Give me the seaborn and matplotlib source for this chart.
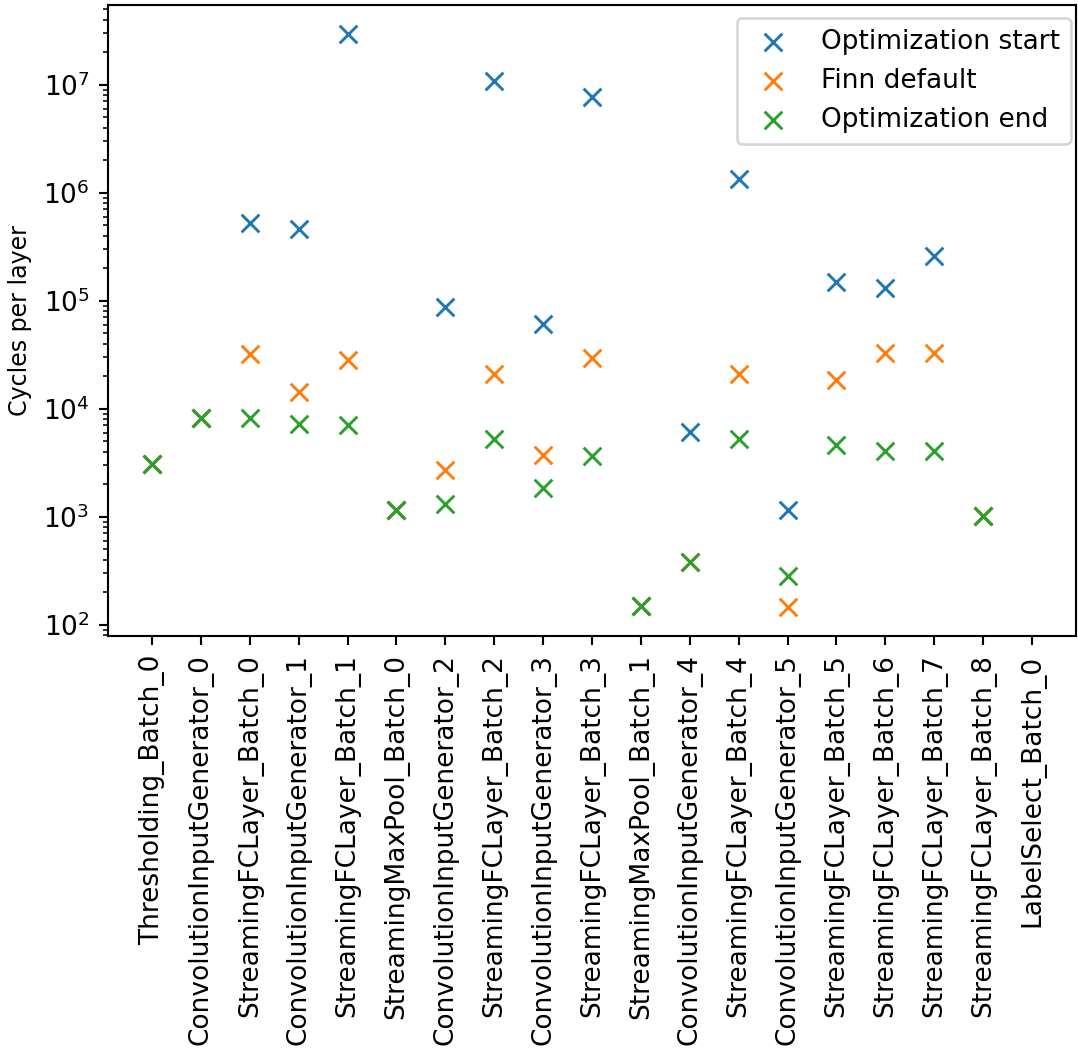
import numpy as np
import pandas as pd
import matplotlib
matplotlib.use("Agg")
import matplotlib.pyplot as plt
import seaborn as sns

layers = [
    "Thresholding_Batch_0",
    "ConvolutionInputGenerator_0",
    "StreamingFCLayer_Batch_0",
    "ConvolutionInputGenerator_1",
    "StreamingFCLayer_Batch_1",
    "StreamingMaxPool_Batch_0",
    "ConvolutionInputGenerator_2",
    "StreamingFCLayer_Batch_2",
    "ConvolutionInputGenerator_3",
    "StreamingFCLayer_Batch_3",
    "StreamingMaxPool_Batch_1",
    "ConvolutionInputGenerator_4",
    "StreamingFCLayer_Batch_4",
    "ConvolutionInputGenerator_5",
    "StreamingFCLayer_Batch_5",
    "StreamingFCLayer_Batch_6",
    "StreamingFCLayer_Batch_7",
    "StreamingFCLayer_Batch_8",
    "LabelSelect_Batch_0",
]

# cycles per layer (NaN: no estimate for that layer)
opt_start = [3100, 8200, 527000, 464000, 29600000, 1160, 88000, 10900000, 61200,
             7740000, 150, 6120, 1350000, 1160, 150000, 132000, 261000, 1020, np.nan]
finn_default = [3100, 8200, 32300, 14400, 28400, 1160, 2720, 21100, 3750,
                29600, 150, 383, 21100, 145, 18600, 33000, 33000, 1020, np.nan]
opt_end = [3100, 8200, 8200, 7260, 7100, 1160, 1320, 5280, 1860,
           3670, 150, 383, 5280, 284, 4640, 4090, 4090, 1020, np.nan]

series = [
    ("Optimization start", opt_start),
    ("Finn default", finn_default),
    ("Optimization end", opt_end),
]

sns.set_theme(style="ticks", rc={
    "text.color": "black",
    "axes.labelcolor": "black",
    "xtick.color": "black",
    "ytick.color": "black",
    "axes.edgecolor": "black",
})
plt.rcParams["font.family"] = ["DejaVu Sans"]
plt.rcParams["font.size"] = 10

DPI = 190
fig = plt.figure(figsize=(1078 / DPI, 1048 / DPI), dpi=DPI)
ax = fig.add_axes([108 / 1078, 1 - 636 / 1048, (1076 - 108) / 1078, (636 - 5) / 1048])

palette = sns.color_palette("tab10", 3)
pos = np.arange(len(layers))
for (name, vals), color in zip(series, palette):
    df = pd.DataFrame({"pos": pos, "cycles": vals})
    sns.scatterplot(data=df, x="pos", y="cycles", marker="x", s=45,
                    color=color, linewidth=1.1, label=name, ax=ax)

ax.set_yscale("log")
all_vals = np.concatenate([np.asarray(v, dtype=float) for _, v in series])
lo, hi = np.log10(np.nanmin(all_vals)), np.log10(np.nanmax(all_vals))
pad = 0.05 * (hi - lo)
ax.set_ylim(10 ** (lo - pad), 10 ** (hi + pad))
ax.set_xlim(-0.9, len(layers) - 1 + 0.9)

ax.set_xticks(pos)
ax.set_xticklabels(layers, rotation=90, fontsize=10)
ax.tick_params(axis="y", labelsize=10)
ax.set_xlabel("")
ax.set_ylabel("Cycles per layer", fontsize=9)

for side in ax.spines.values():
    side.set_visible(True)
    side.set_linewidth(0.8)
ax.tick_params(axis="both", which="major", length=3.5, width=0.8, pad=3.5)
ax.tick_params(axis="y", which="minor", length=2, width=0.6)

leg = ax.legend(loc="upper right", bbox_to_anchor=(1.008, 1.0), frameon=True,
                fontsize=10, fancybox=True, framealpha=0.8, borderpad=0.4,
                handlelength=2.0, handletextpad=0.8, labelspacing=0.5,
                borderaxespad=0.5)
leg.get_frame().set_edgecolor("#cccccc")

fig.savefig("out.png", dpi=DPI)
